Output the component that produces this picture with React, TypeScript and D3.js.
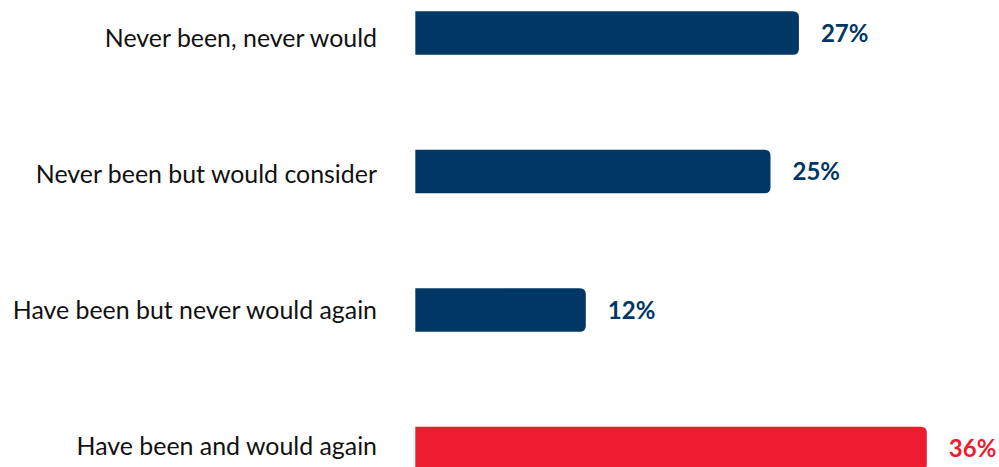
import React from "react";
import * as d3 from "d3";

const categories = [
  "Never been, never would",
  "Never been but would consider",
  "Have been but never would again",
  "Have been and would again",
];
const values = [27, 25, 12, 36];
const colors = ["#003764", "#003764", "#003764", "#ED1C2E"];

const W = 999;
const H = 467;

export default function App() {
  const x = d3.scaleLinear().domain([0, 36]).range([415.3, 926.8]);
  const y = d3.scalePoint<string>().domain(categories).range([33, 33 + 3 * 138.5]);
  const yLabel = d3.scalePoint<string>().domain(categories).range([46.5, 455]);
  const bh = 43.3;
  const r = 6;
  const font = "Lato, 'Open Sans', sans-serif";

  const barPath = (x0: number, x1: number, yc: number) => {
    const t = yc - bh / 2;
    const b = yc + bh / 2;
    return `M${x0},${t}H${x1 - r}Q${x1},${t} ${x1},${t + r}V${b - r}Q${x1},${b} ${x1 - r},${b}H${x0}Z`;
  };

  return (
    <svg
      width={W}
      height={H}
      style={{ position: "absolute", left: 0, top: 0, background: "#fff" }}
    >
      {categories.map((c, i) => {
        const yc = y(c)!;
        return (
          <g key={c}>
            <text
              x={377}
              y={yLabel(c)!}
              textAnchor="end"
              fontFamily={font}
              fontSize={24.9}
              fill="#111"
            >
              {c}
            </text>
            <path d={barPath(x(0), x(values[i]), yc)} fill={colors[i]} />
            <text
              x={x(values[i]) + 22}
              y={yc + 8.5}
              fontFamily={font}
              fontSize={24}
              fontWeight="bold"
              fill={colors[i]}
            >
              {values[i]}%
            </text>
          </g>
        );
      })}
    </svg>
  );
}
